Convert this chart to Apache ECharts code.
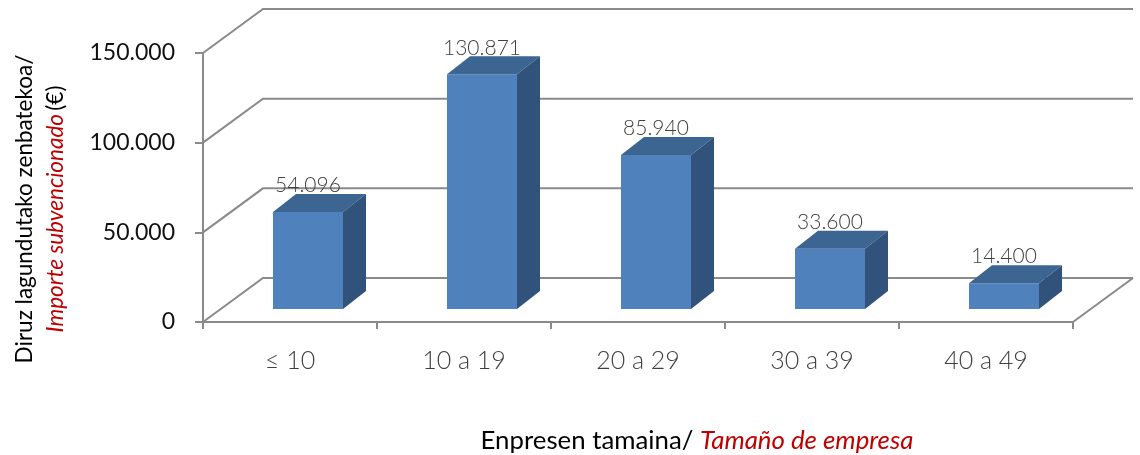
<!DOCTYPE html>
<html>
<head>
<meta charset="utf-8">
<script src="https://cdn.jsdelivr.net/npm/echarts@6/dist/echarts.min.js"></script>
<style>html,body{margin:0;padding:0;background:#fff}#c{width:1140px;height:455px}</style>
</head>
<body>
<div id="c"></div>
<script>
const categories = ['≤ 10', '10 a 19', '20 a 29', '30 a 39', '40 a 49'];
const values = [54096, 130871, 85940, 33600, 14400];
const yTicks = [0, 50000, 100000, 150000];
const yTitleLine1 = 'Diruz lagundutako zenbatekoa/';
const yTitleRed = 'Importe subvencionado';
const yTitleUnit = '(€)';
const xTitleBlack = 'Enpresen tamaina/ ';
const xTitleRed = 'Tamaño de empresa';

function fmt(v) { return String(v).replace(/\B(?=(\d{3})+(?!\d))/g, '.'); }

const DEPTH_X = 60, DEPTH_Y = -44;     // back wall offset
const BAR_OX = 18, BAR_OY = -13;       // bar front-face offset into the depth
const BAR_DX = 23, BAR_DY = -18;       // bar depth
const BAR_W = 70;
const GRID_COLOR = '#8a8a8a';

const chart = echarts.init(document.getElementById('c'));
chart.setOption({
  animation: false,
  backgroundColor: '#fff',
  grid: { left: 203, right: 67, top: 53, bottom: 133 },
  xAxis: {
    type: 'category',
    data: categories,
    axisLine: { show: true, lineStyle: { color: GRID_COLOR, width: 2 } },
    axisTick: { show: true, length: 7, lineStyle: { color: GRID_COLOR, width: 2 } },
    axisLabel: { margin: 26, fontFamily: 'Lato', fontWeight: 300, fontSize: 25, color: '#404040' },
    splitLine: { show: false }
  },
  yAxis: {
    type: 'value',
    min: 0, max: 150000, interval: 50000,
    axisLine: { show: true, lineStyle: { color: GRID_COLOR, width: 2 } },
    axisTick: { show: true, length: 8, lineStyle: { color: GRID_COLOR, width: 2 } },
    axisLabel: { margin: 28, fontFamily: 'Lato', fontSize: 23, color: '#111', formatter: fmt },
    splitLine: { show: false }
  },
  graphic: [
    {
      type: 'text', x: 40, y: 209, rotation: Math.PI / 2,
      style: {
        text: '{a|' + yTitleLine1 + '}\n{r|' + yTitleRed + '} {a|' + yTitleUnit + '}',
        align: 'center', verticalAlign: 'middle',
        rich: {
          a: { fontFamily: 'Lato', fontSize: 22.5, fill: '#000', lineHeight: 31 },
          r: { fontFamily: 'Lato', fontSize: 22.5, fontStyle: 'italic', fill: '#c00000', lineHeight: 31 }
        }
      }
    },
    {
      type: 'text', x: 697, y: 441,
      style: {
        text: '{a|' + xTitleBlack + '}{r|' + xTitleRed + '}',
        align: 'center', verticalAlign: 'middle',
        rich: {
          a: { fontFamily: 'Lato', fontSize: 25.8, fill: '#000' },
          r: { fontFamily: 'Lato', fontSize: 25.8, fontStyle: 'italic', fill: '#c00000' }
        }
      }
    }
  ],
  series: [
    {
      type: 'custom',
      z: 1,
      silent: true,
      clip: false,
      data: yTicks.map(v => [0, v]),
      renderItem: function (params, api) {
        const v = api.value(1);
        const band = api.size([1, 0])[0];
        const p0 = api.coord([0, v]);
        const pN = api.coord([categories.length - 1, v]);
        const xl = p0[0] - band / 2, xr = pN[0] + band / 2, y = p0[1];
        const children = [{
          type: 'polyline',
          shape: { points: [[xl, y], [xl + DEPTH_X, y + DEPTH_Y], [xr + DEPTH_X, y + DEPTH_Y]] },
          style: { stroke: GRID_COLOR, lineWidth: 2, fill: null }
        }];
        if (v === 0) {
          children.push({
            type: 'polyline',
            shape: { points: [[xr, y], [xr + DEPTH_X, y + DEPTH_Y]] },
            style: { stroke: GRID_COLOR, lineWidth: 2, fill: null }
          });
        }
        return { type: 'group', children: children };
      }
    },
    {
      type: 'custom',
      z: 5,
      clip: false,
      data: values.map((v, i) => [i, v]),
      renderItem: function (params, api) {
        const i = api.value(0), v = api.value(1);
        const top = api.coord([i, v]);
        const base = api.coord([i, 0]);
        const cx = top[0] + BAR_OX;
        const x0 = cx - BAR_W / 2, x1 = cx + BAR_W / 2;
        const yT = top[1] + BAR_OY, yB = base[1] + BAR_OY;
        return {
          type: 'group',
          children: [
            { type: 'polygon', shape: { points: [[x0, yT], [x1, yT], [x1, yB], [x0, yB]] },
              style: { fill: '#4f81bd' } },
            { type: 'polygon', shape: { points: [[x0, yT], [x0 + BAR_DX, yT + BAR_DY], [x1 + BAR_DX, yT + BAR_DY], [x1, yT]] },
              style: { fill: '#3d6592' } },
            { type: 'polygon', shape: { points: [[x1, yT], [x1 + BAR_DX, yT + BAR_DY], [x1 + BAR_DX, yB + BAR_DY], [x1, yB]] },
              style: { fill: '#30527b' } },
            { type: 'text', x: cx, y: yT + BAR_DY + 2, z2: 10,
              style: { text: fmt(v), align: 'center', verticalAlign: 'bottom',
                fontFamily: 'Lato', fontWeight: 300, fontSize: 21, fill: '#404040' } }
          ]
        };
      }
    }
  ]
});
</script>
</body>
</html>
